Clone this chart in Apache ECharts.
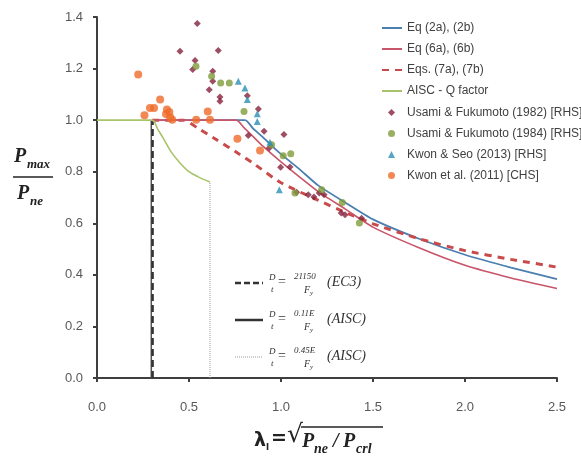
<!DOCTYPE html>
<html>
<head>
<meta charset="utf-8">
<script src="https://cdn.jsdelivr.net/npm/echarts@6/dist/echarts.min.js"></script>
<style>
  html, body { margin: 0; padding: 0; background: #fff; }
  #chart { width: 581px; height: 457px; }
</style>
</head>
<body>
<div id="chart"></div>
<script>
// curves (lambda_l, Pmax/Pne)
const lamEq2 = [0.3, 0.805, 0.85, 0.9, 0.95, 1.0, 1.1, 1.2, 1.35, 1.5, 1.75, 2.0, 2.25, 2.5]
const valEq2 = [1.0, 1.0, 0.966, 0.935, 0.9, 0.868, 0.81, 0.748, 0.68, 0.615, 0.54, 0.478, 0.428, 0.383]
const lamEq6 = [0.3, 0.757, 0.8, 0.85, 0.9, 1.0, 1.1, 1.2, 1.35, 1.5, 1.75, 2.0, 2.25, 2.5]
const valEq6 = [1.0, 1.0, 0.97, 0.935, 0.9, 0.838, 0.78, 0.724, 0.655, 0.585, 0.505, 0.437, 0.388, 0.347]
const lamEq7 = [0.3, 0.47, 0.55, 0.65, 0.77, 0.85, 1.0, 1.2, 1.35, 1.5, 1.75, 2.0, 2.25, 2.5]
const valEq7 = [1.0, 1.0, 0.968, 0.924, 0.87, 0.832, 0.757, 0.69, 0.642, 0.598, 0.54, 0.494, 0.46, 0.43]
const lamQ = [0, 0.3, 0.33, 0.36, 0.4, 0.45, 0.5, 0.55, 0.614]
const valQ = [1.0, 1.0, 0.965, 0.93, 0.88, 0.835, 0.8, 0.78, 0.76]

// slenderness limits (vertical lines)
const limEC3 = [[0.295, 0], [0.295, 1.0]]
const limAISC1 = [[0.302, 0], [0.302, 1.0]]
const limAISC2 = [[0.614, 0], [0.614, 0.76]]

// test data
const usami1982 = [
  [0.545, 1.375], [0.451, 1.267], [0.659, 1.27], [0.533, 1.231], [0.52, 1.196],
  [0.629, 1.19], [0.629, 1.151], [0.61, 1.118], [0.668, 1.09], [0.668, 1.073],
  [0.817, 1.095], [0.877, 1.043], [0.908, 0.957], [1.016, 0.944], [0.822, 0.94],
  [0.936, 0.892], [0.998, 0.817], [1.049, 0.818], [1.085, 0.72], [1.148, 0.711],
  [1.179, 0.702], [1.208, 0.717], [1.234, 0.711], [1.327, 0.64], [1.348, 0.633],
  [1.438, 0.62]
]
const usami1984 = [
  [0.538, 1.209], [0.623, 1.17], [0.672, 1.144], [0.719, 1.144], [0.799, 1.034],
  [0.949, 0.905], [1.012, 0.862], [1.053, 0.87], [1.076, 0.717], [1.221, 0.73],
  [1.333, 0.681], [1.426, 0.601]
]
const kwonSeo = [
  [0.768, 1.151], [0.804, 1.125], [0.817, 1.08], [0.871, 1.025], [0.871, 0.995],
  [0.94, 0.914], [0.991, 0.73]
]
const kwon2011 = [
  [0.224, 1.177], [0.343, 1.08], [0.288, 1.047], [0.31, 1.047], [0.258, 1.019],
  [0.38, 1.041], [0.393, 1.032], [0.375, 1.024], [0.398, 1.011], [0.409, 1.002],
  [0.539, 1.002], [0.602, 1.034], [0.614, 1.002], [0.763, 0.928], [0.886, 0.882]
]

const xTicks = ['0.0', '0.5', '1.0', '1.5', '2.0', '2.5']
const yTicks = ['0.0', '0.2', '0.4', '0.6', '0.8', '1.0', '1.2', '1.4']
const curveNames = ['Eq (2a), (2b)', 'Eq (6a), (6b)', 'Eqs. (7a), (7b)', 'AISC - Q factor']
const testNames = ['Usami & Fukumoto (1982) [RHS]', 'Usami & Fukumoto (1984) [RHS]',
  'Kwon & Seo (2013) [RHS]', 'Kwon et al. (2011) [CHS]']

const zip = (a, b) => a.map((x, i) => [x, b[i]])

const sans = 'Liberation Sans, Arial, sans-serif'
const serif = 'Liberation Serif, DejaVu Serif, serif'
const axisCol = '#3f3f3f'

// formula key inside the plot
function keyRow (y, lineStyle, num, code) {
  return [
    { type: 'line', shape: { x1: 235, y1: y, x2: 263, y2: y }, style: lineStyle },
    { type: 'text', x: 269, y: y - 10, style: { text: 'D', font: 'italic 9px ' + serif, fill: '#333' } },
    { type: 'text', x: 271, y: y + 2, style: { text: 't', font: 'italic 9px ' + serif, fill: '#333' } },
    { type: 'text', x: 278, y: y - 8, style: { text: '=', font: '14px ' + serif, fill: '#333' } },
    { type: 'text', x: 294, y: y - 11, style: { text: num, font: 'italic 9px ' + serif, fill: '#333' } },
    { type: 'text', x: 304, y: y + 2, style: { text: 'F', font: 'italic 10px ' + serif, fill: '#333' } },
    { type: 'text', x: 310, y: y + 7, style: { text: 'y', font: 'italic 7px ' + serif, fill: '#333' } },
    { type: 'text', x: 327, y: y - 8, style: { text: code, font: 'italic 14px ' + serif, fill: '#333' } }
  ]
}

const ink = '#222'
const graphics = [
  // y axis name
  { type: 'text', x: 14, y: 147, style: { text: 'P', font: 'bold italic 20px ' + serif, fill: ink } },
  { type: 'text', x: 27, y: 158, style: { text: 'max', font: 'bold italic 13px ' + serif, fill: ink } },
  { type: 'line', shape: { x1: 13, y1: 177, x2: 53, y2: 177 }, style: { stroke: ink, lineWidth: 1.5 } },
  { type: 'text', x: 17, y: 184, style: { text: 'P', font: 'bold italic 20px ' + serif, fill: ink } },
  { type: 'text', x: 30, y: 195, style: { text: 'ne', font: 'bold italic 13px ' + serif, fill: ink } },
  // x axis name
  { type: 'text', x: 254, y: 432, style: { text: 'λ', font: 'bold 19px DejaVu Sans, sans-serif', fill: ink } },
  { type: 'text', x: 266, y: 443, style: { text: 'l', font: 'bold 9px DejaVu Sans, sans-serif', fill: ink } },
  { type: 'text', x: 271, y: 430, style: { text: '=', font: 'bold 19px DejaVu Sans, sans-serif', fill: ink } },
  { type: 'text', x: 287, y: 423, style: { text: '√', font: '25px DejaVu Sans, sans-serif', fill: ink } },
  { type: 'line', shape: { x1: 301, y1: 427, x2: 383, y2: 427 }, style: { stroke: ink, lineWidth: 1.5 } },
  { type: 'text', x: 302, y: 432, style: { text: 'P', font: 'bold italic 20px ' + serif, fill: ink } },
  { type: 'text', x: 314, y: 442, style: { text: 'ne', font: 'bold italic 14px ' + serif, fill: ink } },
  { type: 'text', x: 333, y: 432, style: { text: '/', font: 'bold italic 20px ' + serif, fill: ink } },
  { type: 'text', x: 343, y: 432, style: { text: 'P', font: 'bold italic 20px ' + serif, fill: ink } },
  { type: 'text', x: 356, y: 442, style: { text: 'crl', font: 'bold italic 14px ' + serif, fill: ink } }
]
  .concat(keyRow(283, { stroke: '#333', lineWidth: 2.5, lineDash: [6, 3] }, '21150', '(EC3)'))
  .concat(keyRow(320, { stroke: '#333', lineWidth: 2.5 }, '0.11E', '(AISC)'))
  .concat(keyRow(357, { stroke: '#999', lineWidth: 1, lineDash: [1, 1] }, '0.45E', '(AISC)'))

const legendText = { fontFamily: sans, fontSize: 12, color: '#404040' }

const chart = echarts.init(document.getElementById('chart'))
chart.setOption({
  animation: false,
  grid: { left: 97, right: 24, top: 17, bottom: 79 },
  legend: [{
    orient: 'vertical',
    left: 381,
    top: 22,
    padding: 0,
    itemWidth: 20,
    itemHeight: 7,
    itemGap: 9,
    textStyle: legendText,
    // hide the marker dot that line legend icons carry
    data: curveNames.map(n => ({ name: n, itemStyle: { opacity: 0 } }))
  }, {
    orient: 'vertical',
    left: 388,
    top: 106.5,
    padding: 0,
    itemWidth: 7,
    itemHeight: 7,
    itemGap: 9,
    textStyle: Object.assign({ padding: [0, 0, 0, 7] }, legendText),
    data: testNames
  }],
  xAxis: {
    type: 'value', min: 0, max: 2.5, interval: 0.5,
    splitLine: { show: false },
    axisLine: { lineStyle: { color: axisCol, width: 2 } },
    axisTick: { length: 4, lineStyle: { color: axisCol, width: 2 } },
    axisLabel: { margin: 23, fontFamily: sans, fontSize: 13, color: '#595959',
      formatter: v => xTicks[Math.round(v / 0.5)] }
  },
  yAxis: {
    type: 'value', min: 0, max: 1.4, interval: 0.2,
    splitLine: { show: false },
    axisLine: { show: true, lineStyle: { color: axisCol, width: 2 } },
    axisTick: { show: true, length: 4, lineStyle: { color: axisCol, width: 2 } },
    axisLabel: { margin: 14, fontFamily: sans, fontSize: 13, color: '#595959',
      formatter: v => yTicks[Math.round(v / 0.2)] }
  },
  graphic: graphics,
  series: [
    { name: 'limEC3', type: 'line', data: limEC3, symbol: 'none', silent: true,
      lineStyle: { color: '#555', width: 1.5 }, z: 1 },
    { name: 'limAISC1', type: 'line', data: limAISC1, symbol: 'none', silent: true,
      lineStyle: { color: '#333', width: 2.5, type: [7, 4] }, z: 1 },
    { name: 'limAISC2', type: 'line', data: limAISC2, symbol: 'none', silent: true,
      lineStyle: { color: '#999', width: 1, type: [1, 1] }, z: 1 },
    { name: curveNames[0], type: 'line', data: zip(lamEq2, valEq2), symbol: 'none', smooth: 0.2,
      color: '#4a7fb0', lineStyle: { color: '#4a7fb0', width: 1.8 }, z: 2 },
    { name: curveNames[2], type: 'line', data: zip(lamEq7, valEq7), symbol: 'none', smooth: 0.2,
      color: '#c94a4a', lineStyle: { color: '#c94a4a', width: 3, type: [7, 6] }, z: 2 },
    { name: curveNames[1], type: 'line', data: zip(lamEq6, valEq6), symbol: 'none', smooth: 0.2,
      color: '#c8566a', lineStyle: { color: '#c8566a', width: 1.6 }, z: 2 },
    { name: curveNames[3], type: 'line', data: zip(lamQ, valQ), symbol: 'none', smooth: 0.3,
      color: '#a8c46a', lineStyle: { color: '#a8c46a', width: 1.6 }, z: 2 },
    { name: testNames[0], type: 'scatter', data: usami1982,
      symbol: 'diamond', symbolSize: 7, itemStyle: { color: '#84223c' }, z: 3 },
    { name: testNames[1], type: 'scatter', data: usami1984,
      symbol: 'circle', symbolSize: 7, itemStyle: { color: '#7f9b3b' }, z: 3 },
    { name: testNames[2], type: 'scatter', data: kwonSeo,
      symbol: 'triangle', symbolSize: 7, itemStyle: { color: '#2c8fb6' }, z: 3 },
    { name: testNames[3], type: 'scatter', data: kwon2011,
      symbol: 'circle', symbolSize: 8, itemStyle: { color: '#ef6b2b' }, z: 3 }
  ]
})
</script>
</body>
</html>
